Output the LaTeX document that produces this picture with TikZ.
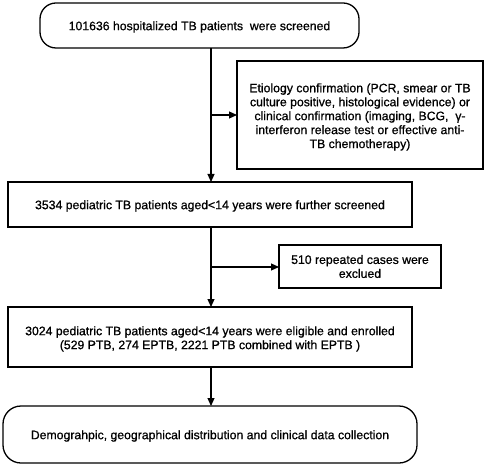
\documentclass[tikz,border=0pt]{standalone}
\usepackage{fontspec}
\setmainfont{Liberation Sans}[FakeBold=0.8]
\usetikzlibrary{arrows.meta}
\begin{document}
\begin{tikzpicture}[x=1bp,y=-1bp,
  every node/.style={font=\fontsize{12.3}{14}\selectfont, align=center, inner sep=0pt},
  box/.style={draw, line width=1.3bp},
  conn/.style={line width=1.1bp},
  arr/.style={conn, -{Triangle[length=8bp,width=7bp]}}]
\useasboundingbox (0,0) rectangle (486,465);
% boxes
\draw[box, rounded corners=16bp] (40,3) rectangle (359,48);
\node (t1) at (199.5,27) {101636 hospitalized TB patients\ \ were screened};
\coordinate (b1) at (211,48);

\draw[box] (237,61) rectangle (483,169);
\node (t2) at (360,117) {Etiology confirmation (PCR, smear or TB\\culture positive, histological evidence) or\\clinical confirmation (imaging, BCG,\ \ γ-\\interferon release test or effective anti-\\TB chemotherapy)};
\coordinate (l2) at (237,115);

\draw[box] (8,182) rectangle (412,227);
\node (t3) at (210,206) {3534 pediatric TB patients aged<14 years were further screened};
\coordinate (t3top) at (211,182);
\coordinate (b3) at (211,227);

\draw[box] (279,245) rectangle (441,288);
\node (t4) at (360,266.5) {510 repeated cases were\\exclued};
\coordinate (l4) at (279,267);

\draw[box] (8,307) rectangle (412,367);
\node (t5) at (210,339) {3024 pediatric TB patients aged<14 years were eligible and enrolled\\(529 PTB, 274 EPTB, 2221 PTB combined with EPTB )};
\coordinate (t5top) at (211,307);
\coordinate (b5) at (211,367);

\draw[box, rounded corners=18bp] (3,406) rectangle (417,463);
\node (t6) at (210,436) {Demograhpic, geographical distribution and clinical data collection};
\coordinate (t6top) at (211,406);

% connectors
\coordinate (j1) at (211,115);
\coordinate (j2) at (211,267);
\draw[arr] (b1) -- (t3top);
\draw[arr] (j1) -- (l2);
\draw[arr] (b3) -- (t5top);
\draw[arr] (j2) -- (l4);
\draw[arr] (b5) -- (t6top);
\end{tikzpicture}
\end{document}
